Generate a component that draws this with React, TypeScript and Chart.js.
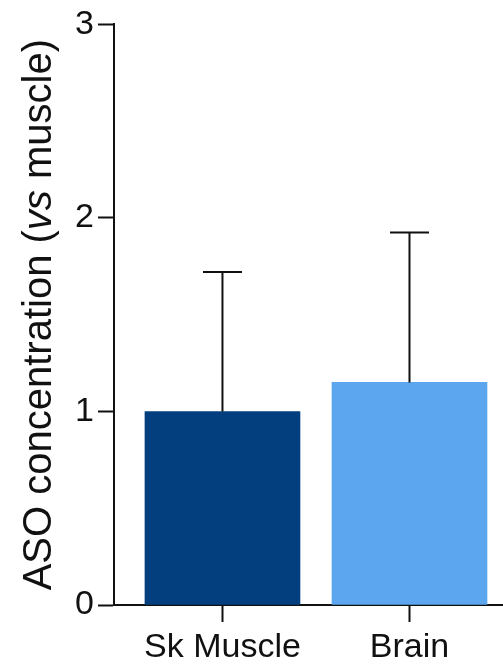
import React, { useEffect, useRef } from "react";
import { Chart, registerables } from "chart.js";

Chart.register(...registerables);

const categories: string[] = ["Sk Muscle", "Brain"];
const means: number[] = [1.0, 1.15];
const errUpper: number[] = [0.72, 0.775];
const barColors: string[] = ["#033F7F", "#5CA5EF"];
const yTicks: number[] = [0, 1, 2, 3];
const titleParts: { text: string; italic: boolean }[] = [
  { text: "ASO concentration (", italic: false },
  { text: "vs", italic: true },
  { text: " muscle)", italic: false },
];

const FONT = '"Liberation Sans", Arial, Helvetica, sans-serif';
const INK = "#111111";

const errorBarPlugin = {
  id: "errorBars",
  afterDatasetsDraw(chart: any) {
    const xs = chart.scales.x;
    const ys = chart.scales.y;
    const ctx = chart.ctx;
    ctx.save();
    ctx.strokeStyle = INK;
    ctx.lineWidth = 2;
    means.forEach((m, i) => {
      const x = xs.getPixelForValue(i);
      const y0 = ys.getPixelForValue(m);
      const y1 = ys.getPixelForValue(m + errUpper[i]);
      ctx.beginPath();
      ctx.moveTo(x, y0);
      ctx.lineTo(x, y1);
      ctx.moveTo(x - 19.5, y1);
      ctx.lineTo(x + 19.5, y1);
      ctx.stroke();
    });
    ctx.restore();
  },
};

const yTitlePlugin = {
  id: "yTitleMixed",
  afterDraw(chart: any) {
    const ctx = chart.ctx;
    const area = chart.chartArea;
    const size = 40;
    ctx.save();
    const fontFor = (it: boolean) => `${it ? "italic " : ""}${size}px ${FONT}`;
    let total = 0;
    const widths = titleParts.map((p) => {
      ctx.font = fontFor(p.italic);
      const w = ctx.measureText(p.text).width;
      total += w;
      return w;
    });
    const cy = (area.top + area.bottom) / 2;
    const bx = area.left - 63;
    ctx.translate(bx, cy);
    ctx.rotate(-Math.PI / 2);
    ctx.fillStyle = INK;
    ctx.textBaseline = "alphabetic";
    ctx.textAlign = "left";
    let x = -total / 2;
    titleParts.forEach((p, i) => {
      ctx.font = fontFor(p.italic);
      ctx.fillText(p.text, x, 0);
      x += widths[i];
    });
    ctx.restore();
  },
};

function ChartView() {
  const ref = useRef<HTMLCanvasElement | null>(null);
  useEffect(() => {
    if (!ref.current) return;
    const chart = new Chart(ref.current, {
      type: "bar",
      data: {
        datasets: [
          {
            data: means.map((m, i) => ({ x: i, y: m })),
            backgroundColor: barColors,
            borderWidth: 0,
            barThickness: 155,
          } as any,
        ],
      },
      options: {
        animation: false,
        responsive: false,
        maintainAspectRatio: false,
        layout: { padding: { top: 21, right: 0, left: 0, bottom: 0 } },
        plugins: {
          legend: { display: false },
          tooltip: { enabled: false },
        },
        scales: {
          x: {
            type: "linear",
            min: -0.58,
            max: 1.5,
            offset: false,
            z: 1,
            afterBuildTicks: (s: any) => {
              s.ticks = categories.map((_, i) => ({ value: i }));
            },
            afterFit: (s: any) => {
              s.height = 59;
            },
            grid: {
              offset: false,
              drawOnChartArea: false,
              drawTicks: true,
              tickLength: 17,
              tickWidth: 2,
              tickColor: INK,
            },
            border: { display: true, color: INK, width: 2 },
            ticks: {
              padding: 5,
              color: INK,
              font: { family: FONT, size: 34 },
              callback: (v: any) => categories[Number(v)] ?? "",
              maxRotation: 0,
            },
          },
          y: {
            type: "linear",
            min: 0,
            max: 3,
            z: 1,
            afterBuildTicks: (s: any) => {
              s.ticks = yTicks.map((v) => ({ value: v }));
            },
            afterFit: (s: any) => {
              s.width = 114;
            },
            grid: {
              drawOnChartArea: false,
              drawTicks: true,
              tickLength: 16,
              tickWidth: 2,
              tickColor: INK,
            },
            border: { display: true, color: INK, width: 2 },
            ticks: {
              padding: 4,
              color: INK,
              font: { family: FONT, size: 34 },
            },
          },
        },
      },
      plugins: [errorBarPlugin, yTitlePlugin],
    });
    return () => chart.destroy();
  }, []);
  return <canvas ref={ref} width={503} height={664} style={{ display: "block" }} />;
}

export default function App() {
  return (
    <div style={{ position: "absolute", left: 0, top: 0, width: 503, height: 664, background: "#ffffff" }}>
      <ChartView />
    </div>
  );
}
